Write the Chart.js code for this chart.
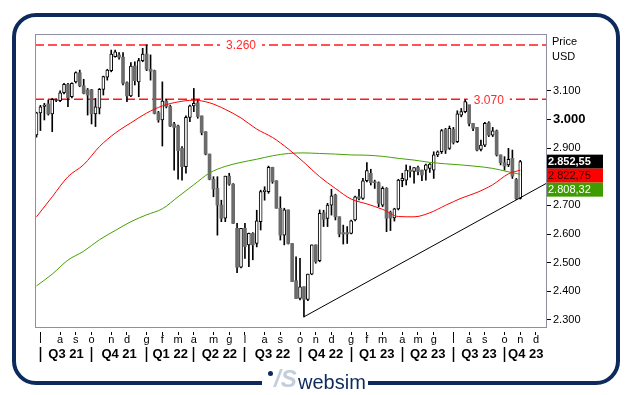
<!DOCTYPE html>
<html>
<head>
<meta charset="utf-8">
<title>Price USD</title>
<script src="https://cdn.jsdelivr.net/npm/chart.js@4.4.0/dist/chart.umd.min.js"></script>
<style>
html, body { margin: 0; padding: 0; background: #fff; }
#wrap { position: relative; width: 629px; height: 395px; overflow: hidden; }
#frame { position: absolute; left: 12px; top: 13px; width: 608px; height: 372px; box-sizing: border-box; border: 4.5px solid #0c2b5c; border-radius: 24px; }
#chart { position: absolute; left: 0; top: 0; }
#logo { position: absolute; left: 262px; top: 366px; width: 106px; height: 26px; background: #fff; font-family: "Liberation Sans", Arial, sans-serif; }
#logo .dot { position: absolute; left: 6px; top: 5px; width: 5px; height: 5px; border-radius: 50%; background: #0c2b5c; }
#logo .mark { position: absolute; left: 12px; top: 1px; font: italic bold 24px/24px "Liberation Sans", Arial, sans-serif; color: #c3cedd; }
#logo .name { position: absolute; left: 36px; top: 6px; font: 20px/20px "Liberation Sans", Arial, sans-serif; color: #0c2b5c; }
</style>
</head>
<body>
<div id="wrap">
  <div id="frame"></div>
  <canvas id="chart" width="629" height="395"></canvas>
  <div id="logo"><span class="dot"></span><span class="mark">/S</span><span class="name">websim</span></div>
</div>
<script>
// weekly candles, first week ends 25 Jun 2021
const opens = [
  2946, 3023, 3045, 3054, 3019, 3066, 3065, 3093, 3122, 3079,
  3131, 3163, 3117, 3103, 3103, 3019, 3039, 3105, 3147, 3170,
  3219, 3225, 3217, 3128, 3082, 3186, 3131, 3205, 3228, 3175,
  3170, 3023, 2998, 3064, 3045, 2984, 2977, 2899, 2835, 3007,
  3047, 3058, 3012, 2957, 2879, 2791, 2759, 2701, 2655, 2802,
  2774, 2620, 2484, 2620, 2562, 2602, 2567, 2643, 2748, 2748,
  2833, 2786, 2690, 2596, 2684, 2567, 2437, 2375, 2416, 2372,
  2460, 2562, 2507, 2674, 2654, 2701, 2736, 2660, 2605, 2605,
  2602, 2649, 2730, 2724, 2786, 2812, 2782, 2779, 2701, 2759,
  2676, 2656, 2688, 2786, 2788, 2823, 2818, 2832, 2823, 2823,
  2829, 2823, 2876, 2887, 2965, 2899, 2965, 2922, 3015, 3027,
  3058, 2986, 2972, 2895, 2910, 2988, 2945, 2960, 2876, 2849,
  2841, 2864, 2790, 2724
];
const highs = [
  3025, 3049, 3056, 3068, 3073, 3072, 3100, 3126, 3126, 3128,
  3166, 3172, 3140, 3108, 3105, 3073, 3108, 3151, 3175, 3242,
  3242, 3233, 3233, 3131, 3198, 3201, 3213, 3248, 3260, 3225,
  3172, 3028, 3131, 3070, 3050, 2990, 2980, 2905, 3012, 3050,
  3108, 3068, 3012, 2957, 2879, 2800, 2800, 2718, 2802, 2812,
  2776, 2637, 2620, 2637, 2603, 2605, 2683, 2753, 2765, 2837,
  2833, 2786, 2730, 2690, 2684, 2567, 2520, 2515, 2416, 2460,
  2562, 2562, 2684, 2683, 2707, 2756, 2739, 2660, 2631, 2626,
  2649, 2732, 2756, 2794, 2849, 2826, 2788, 2782, 2765, 2762,
  2680, 2690, 2791, 2812, 2841, 2837, 2832, 2837, 2823, 2844,
  2846, 2887, 2890, 2965, 2969, 2977, 2972, 3030, 3038, 3068,
  3068, 2986, 2972, 2928, 2990, 2992, 2972, 2963, 2876, 2870,
  2899, 2893, 2794, 2857
];
const lows = [
  2938, 2961, 2998, 3015, 2957, 3062, 3062, 3089, 3044, 3075,
  3127, 3114, 3089, 3015, 2984, 2975, 3019, 3085, 3137, 3166,
  3217, 3210, 3120, 3062, 3079, 3120, 3079, 3201, 3170, 3137,
  3019, 2990, 2907, 3040, 2975, 2823, 2791, 2788, 2812, 2992,
  3027, 3004, 2946, 2876, 2789, 2730, 2596, 2643, 2643, 2770,
  2637, 2465, 2482, 2515, 2486, 2510, 2555, 2614, 2718, 2742,
  2777, 2690, 2579, 2562, 2565, 2434, 2375, 2370, 2311, 2367,
  2458, 2498, 2503, 2626, 2626, 2666, 2649, 2590, 2565, 2567,
  2600, 2646, 2719, 2721, 2782, 2771, 2759, 2695, 2695, 2608,
  2612, 2645, 2684, 2765, 2771, 2798, 2777, 2806, 2786, 2788,
  2815, 2794, 2870, 2881, 2881, 2895, 2914, 2919, 3009, 3023,
  2977, 2961, 2890, 2890, 2905, 2940, 2940, 2872, 2841, 2823,
  2835, 2794, 2720, 2722
];
const closes = [
  3023, 3044, 3050, 3019, 3070, 3068, 3093, 3122, 3076, 3126,
  3163, 3117, 3091, 3085, 3019, 3044, 3105, 3149, 3172, 3228,
  3236, 3217, 3126, 3082, 3186, 3135, 3205, 3228, 3175, 3168,
  3021, 2998, 3064, 3045, 2977, 2972, 2891, 2835, 3007, 3047,
  3056, 3010, 2954, 2879, 2791, 2757, 2701, 2655, 2802, 2774,
  2637, 2484, 2620, 2556, 2602, 2562, 2646, 2748, 2753, 2833,
  2783, 2690, 2596, 2684, 2567, 2434, 2375, 2416, 2372, 2460,
  2562, 2503, 2672, 2651, 2701, 2733, 2660, 2600, 2600, 2600,
  2646, 2730, 2724, 2786, 2821, 2779, 2779, 2707, 2759, 2655,
  2656, 2688, 2788, 2794, 2823, 2818, 2832, 2818, 2806, 2841,
  2844, 2876, 2887, 2961, 2893, 2969, 2919, 3019, 3027, 3062,
  2986, 2969, 2893, 2910, 2986, 2945, 2960, 2876, 2849, 2837,
  2861, 2802, 2724, 2852.55
];

// moving averages, read every 4 weeks
const maWeeks = [0, 4, 8, 12, 16, 20, 24, 28, 32, 36, 40, 44, 48, 52, 56, 60,
  64, 68, 72, 76, 80, 84, 88, 92, 96, 100, 104, 108, 112, 116, 120, 123];
const maRed = [2660, 2730, 2800, 2842, 2905, 2952, 2988, 3022, 3047, 3061, 3067, 3058, 3035, 3005, 2966, 2937,
  2897, 2850, 2800, 2759, 2722, 2705, 2686, 2661, 2660, 2674, 2700, 2725, 2745, 2772, 2810, 2822.75];
const maGreen = [2419, 2460, 2509, 2540, 2580, 2612, 2643, 2667, 2688, 2730, 2772, 2813, 2836, 2850, 2861, 2873,
  2881, 2883, 2881, 2879, 2876, 2875, 2871, 2864, 2858, 2850, 2845, 2841, 2836, 2829, 2817, 2808.32];

// horizontal levels and support line
const levels = [3260, 3070];
const levelLabelWeek = [52, 115];
const trendWeeks = [68, 129.8];
const trendValues = [2311, 2778];

// axis labels
const monthWeeks = [1, 6, 10, 14, 19, 23, 28, 32, 36, 40, 45, 49, 53, 58, 62, 67, 71, 75,
  80, 84, 88, 93, 97, 101, 106, 110, 114, 119, 123, 127];
const monthLetters = ['l', 'a', 's', 'o', 'n', 'd', 'g', 'f', 'm', 'a', 'm', 'g', 'l', 'a', 's',
  'o', 'n', 'd', 'g', 'f', 'm', 'a', 'm', 'g', 'l', 'a', 's', 'o', 'n', 'd'];
const quarterLabels = ['Q3 21', 'Q4 21', 'Q1 22', 'Q2 22', 'Q3 22', 'Q4 22', 'Q1 23', 'Q2 23', 'Q3 23', 'Q4 23'];
const yTicks = [2300, 2400, 2500, 2600, 2700, 2800, 2900, 3000, 3100];

const xMin = -0.38, xMax = 129.8;
const FONT = '"Liberation Sans", Arial, sans-serif';
Chart.defaults.font.family = FONT;

/* 3260 -> "3.260", 2852.55 -> "2.852,55" */
function fmtIt(v, dec) {
  const parts = v.toFixed(dec).split('.');
  const int = parts[0].replace(/\B(?=(\d{3})+(?!\d))/g, '.');
  return parts[1] ? int + ',' + parts[1] : int;
}

const N = closes.length;
const up = closes.map((c, i) => c >= opens[i]);
const wickData = lows.map((l, i) => ({x: i, y: [l, highs[i]]}));
const bodyData = opens.map((o, i) => ({x: i, y: [o, closes[i]]}));
const redData = maWeeks.map((w, i) => ({x: w, y: maRed[i]}));
const greenData = maWeeks.map((w, i) => ({x: w, y: maGreen[i]}));
const trendData = trendWeeks.map((w, i) => ({x: w, y: trendValues[i]}));

// quarter axis: separator at each quarter start, label in the middle
const quarterTicks = [];
quarterLabels.forEach((q, k) => {
  const start = monthWeeks[k * 3];
  const end = k * 3 + 3 < monthWeeks.length ? monthWeeks[k * 3 + 3] : xMax;
  quarterTicks.push({value: start});
  quarterTicks.push({value: (start + end) / 2});
});

const extras = {
  id: 'extras',
  afterDatasetsDraw(chart) {
    const {ctx, chartArea: a} = chart;
    const xs = chart.scales.x, ys = chart.scales.y;
    ctx.save();

    ctx.strokeStyle = '#8f8f9f';
    ctx.lineWidth = 1;
    ctx.strokeRect(a.left + 0.5, a.top + 0.5, a.right - a.left - 1, a.bottom - a.top - 1);

    // level labels on the dashed lines
    ctx.font = '12px ' + FONT;
    ctx.textAlign = 'center';
    ctx.textBaseline = 'middle';
    levels.forEach((v, k) => {
      const txt = fmtIt(v, 0);
      const px = xs.getPixelForValue(levelLabelWeek[k]);
      const py = ys.getPixelForValue(v);
      const w = ctx.measureText(txt).width + 12;
      ctx.fillStyle = '#fff';
      ctx.fillRect(px - w / 2, py - 5, w, 10);
      ctx.fillStyle = '#ff2a2a';
      ctx.fillText(txt, px, py + 1);
    });

    // last value tags
    const tags = [
      {v: closes[N - 1], bg: '#000', fg: '#fff', bold: true},
      {v: maRed[maRed.length - 1], bg: '#ff0000', fg: '#2a0000'},
      {v: maGreen[maGreen.length - 1], bg: '#3f9c00', fg: '#fff'}
    ];
    tags.sort((p, q) => q.v - p.v);
    let prevBottom = -Infinity;
    ctx.textAlign = 'left';
    tags.forEach(t => {
      const top = Math.max(ys.getPixelForValue(t.v) - 7, prevBottom);
      ctx.fillStyle = t.bg;
      ctx.fillRect(a.right, top, 56, 14);
      ctx.font = (t.bold ? 'bold ' : '') + '11px ' + FONT;
      ctx.fillStyle = t.fg;
      ctx.fillText(fmtIt(t.v, 2), a.right + 1, top + 7.5);
      prevBottom = top + 14;
    });

    ctx.fillStyle = '#000';
    ctx.font = '11px ' + FONT;
    ctx.fillText('Price', a.right + 5, 42);
    ctx.fillText('USD', a.right + 5, 57);
    ctx.restore();
  }
};

const hline = v => ({
  type: 'line',
  data: [{x: xMin, y: v}, {x: xMax, y: v}],
  borderColor: '#ff1a1a',
  borderWidth: 1.5,
  borderDash: [9, 4],
  pointRadius: 0,
  order: 4
});

new Chart(document.getElementById('chart'), {
  type: 'line',
  data: {
    datasets: [
      hline(levels[0]),
      hline(levels[1]),
      {
        type: 'bar', data: wickData, backgroundColor: '#000',
        barThickness: 1, maxBarThickness: 1, barPercentage: 1, categoryPercentage: 1,
        grouped: false, order: 3
      },
      {
        type: 'bar', data: bodyData,
        backgroundColor: ctx => up[ctx.dataIndex] ? '#fff' : '#6b6b6b',
        borderColor: ctx => up[ctx.dataIndex] ? '#000' : '#6b6b6b',
        borderWidth: ctx => up[ctx.dataIndex] ? 1 : 0,
        borderSkipped: false, minBarLength: 1,
        barThickness: 3, maxBarThickness: 3, barPercentage: 1, categoryPercentage: 1,
        grouped: false, order: 2
      },
      {
        data: redData, borderColor: '#ff0000', borderWidth: 1,
        pointRadius: 0, cubicInterpolationMode: 'monotone', order: 1
      },
      {
        data: greenData, borderColor: '#46a000', borderWidth: 1,
        pointRadius: 0, cubicInterpolationMode: 'monotone', order: 1
      },
      {
        data: trendData, borderColor: '#000', borderWidth: 1,
        pointRadius: 0, order: 0
      }
    ]
  },
  options: {
    responsive: false,
    animation: false,
    devicePixelRatio: 1,
    events: [],
    layout: {padding: {left: 35, top: 34, right: 0, bottom: 0}},
    plugins: {legend: {display: false}, tooltip: {enabled: false}},
    scales: {
      x: {
        type: 'linear', position: 'bottom', weight: 0, min: xMin, max: xMax, offset: false,
        ticks: {display: false}, grid: {display: false}, border: {display: false},
        afterFit: s => { s.height = 4; }
      },
      months: {
        type: 'linear', position: 'bottom', weight: 1, min: xMin, max: xMax, offset: false,
        afterBuildTicks: s => { s.ticks = monthWeeks.map(v => ({value: v})); },
        ticks: {
          autoSkip: false, maxRotation: 0, padding: -2, color: '#000',
          font: {size: 11}, callback: (v, i) => monthLetters[i]
        },
        grid: {drawOnChartArea: false, offset: false, tickLength: 3, tickColor: '#000', tickWidth: 1},
        border: {display: false},
        afterFit: s => { s.height = 15; }
      },
      quarters: {
        type: 'linear', position: 'bottom', weight: 2, min: xMin, max: xMax, offset: false,
        afterBuildTicks: s => { s.ticks = quarterTicks.map(t => ({value: t.value})); },
        ticks: {
          autoSkip: false, maxRotation: 0, padding: -15, color: '#000',
          font: {size: 13, weight: 'bold'},
          callback: (v, i) => i % 2 ? quarterLabels[(i - 1) / 2] : ''
        },
        grid: {
          drawOnChartArea: false, offset: false, tickLength: 15, tickWidth: 1.5,
          tickColor: ctx => ctx.index % 2 ? 'rgba(0,0,0,0)' : '#000'
        },
        border: {display: false},
        afterFit: s => { s.height = 48; }
      },
      y: {
        type: 'linear', position: 'right', min: 2272, max: 3298,
        afterBuildTicks: s => { s.ticks = yTicks.map(v => ({value: v})); },
        ticks: {
          padding: 2, color: '#000',
          font: ctx => ctx.tick && ctx.tick.value === 3000 ? {size: 13, weight: 'bold'} : {size: 11},
          callback: v => fmtIt(v, 0)
        },
        grid: {drawOnChartArea: false, tickLength: 4, tickColor: '#000', tickWidth: 1},
        border: {display: false},
        afterFit: s => { s.width = 82; }
      }
    }
  },
  plugins: [extras]
});
</script>
</body>
</html>
